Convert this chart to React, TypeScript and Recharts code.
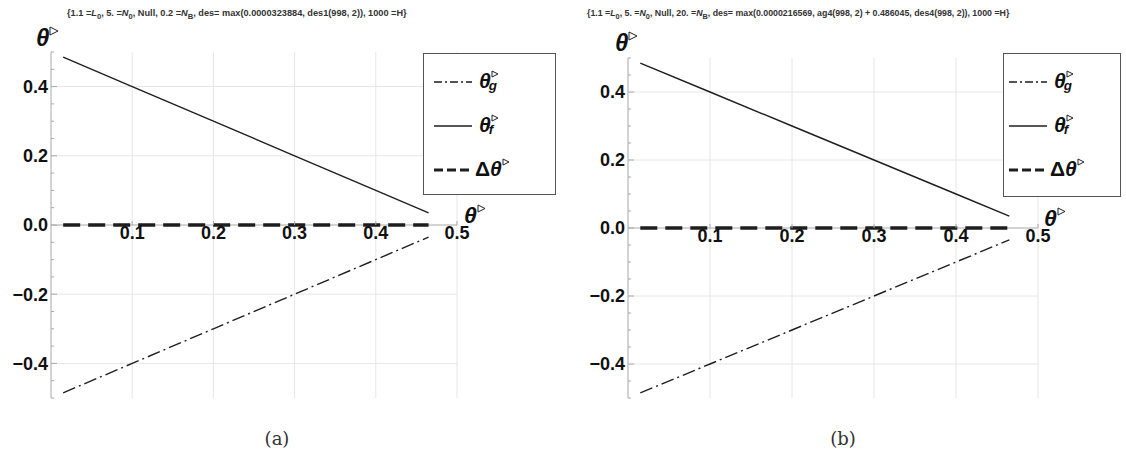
import React from "react";
import {
  LineChart,
  Line,
  XAxis,
  YAxis,
  CartesianGrid,
  ReferenceLine,
  Legend,
} from "recharts";

// sample positions along θ▷ and the three curves
const X_VALUES = [0.015, 0.1, 0.2, 0.3, 0.4, 0.465];
const THETA_G = [-0.485, -0.4, -0.3, -0.2, -0.1, -0.035];
const THETA_F = [0.485, 0.4, 0.3, 0.2, 0.1, 0.035];
const DELTA_THETA = [0, 0, 0, 0, 0, 0];

const X_TICKS = [0.1, 0.2, 0.3, 0.4, 0.5];
const Y_TICKS = [
  -0.5, -0.45, -0.4, -0.35, -0.3, -0.25, -0.2, -0.15, -0.1, -0.05, 0, 0.05,
  0.1, 0.15, 0.2, 0.25, 0.3, 0.35, 0.4, 0.45, 0.5,
];
const Y_GRID = [-0.4, -0.2, 0.2, 0.4];
const CAPTIONS = ["(a)", "(b)"];

const data = X_VALUES.map((x, i) => ({
  x,
  g: THETA_G[i],
  f: THETA_F[i],
  d: DELTA_THETA[i],
}));

const SERIES = [
  { key: "g", sub: "g", delta: false, dash: "13 4 2 4", width: 1.4, legendDash: "8 3 2 3" },
  { key: "f", sub: "f", delta: false, dash: undefined, width: 1.4, legendDash: undefined },
  { key: "d", sub: "", delta: true, dash: "17 8", width: 3.6, legendDash: "9 4" },
];

const INK = "#1e1e1e";
const AXIS = "#a8a8a8";
const GRID = "#e6e6e6";
const SANS = "'Liberation Sans', Arial, sans-serif";
const Y_AXIS_W = 46;
const X_AXIS_H = 20;

const fmt = (v: number) => {
  const s = Math.abs(v).toFixed(1);
  return v < -1e-9 ? "\u2212" + s : s;
};

const isMajor = (v: number) =>
  Math.abs(v * 5 - Math.round(v * 5)) < 1e-6 && Math.abs(v) < 0.49;

const YTick = (props: any) => {
  const { x, y, payload } = props;
  const v = payload.value as number;
  const major = isMajor(v);
  return (
    <g>
      <line x1={x} x2={x + (major ? 6 : 3)} y1={y} y2={y} stroke={AXIS} />
      {major && (
        <text
          x={x - 3}
          y={y}
          dy="0.36em"
          textAnchor="end"
          fontFamily={SANS}
          fontWeight="bold"
          fontSize={18}
          fill="#111"
        >
          {fmt(v)}
        </text>
      )}
    </g>
  );
};

// x ticks sit on the zero line, not at the bottom of the plot
const makeXTick = (lift: number) => (props: any) => {
  const { x, y, payload } = props;
  const y0 = y - lift;
  return (
    <g>
      <line x1={x} x2={x} y1={y0} y2={y0 - 4} stroke={AXIS} />
      <text
        x={x}
        y={y0 + 14}
        textAnchor="middle"
        fontFamily={SANS}
        fontWeight="bold"
        fontSize={18}
        fill="#111"
      >
        {payload.value.toFixed(1)}
      </text>
    </g>
  );
};

// small open triangle used as the ▷ superscript
const Tri = ({ s }: { s: number }) => (
  <svg width={s} height={s} style={{ display: "block" }}>
    <polygon
      points={`1,1 ${s - 1},${s / 2} 1,${s - 1}`}
      fill="none"
      stroke="#222"
      strokeWidth={1}
    />
  </svg>
);

const Theta = ({ size, sub, delta }: { size: number; sub?: string; delta?: boolean }) => (
  <span
    style={{
      fontFamily: SANS,
      fontWeight: "bold",
      fontSize: size,
      color: "#111",
      whiteSpace: "nowrap",
      lineHeight: 1,
    }}
  >
    {delta && <span>Δ</span>}
    <span style={{ fontStyle: "italic" }}>θ</span>
    <span
      style={{
        display: "inline-block",
        position: "relative",
        width: size * 0.42,
        height: size,
        verticalAlign: "top",
      }}
    >
      <span style={{ position: "absolute", left: 0, top: -size * 0.02 }}>
        <Tri s={Math.round(size * 0.4)} />
      </span>
      {sub && (
        <span
          style={{
            position: "absolute",
            left: -2,
            top: size * 0.45,
            fontSize: size * 0.64,
            fontStyle: "italic",
          }}
        >
          {sub}
        </span>
      )}
    </span>
  </span>
);

const LegendBox = ({ sampleLeft, textLeft }: { sampleLeft: number; textLeft: number }) => (
  <div
    style={{
      width: "100%",
      height: "100%",
      boxSizing: "border-box",
      border: "1.5px solid #555",
      background: "#fff",
      position: "relative",
    }}
  >
    {SERIES.map((s, i) => (
      <div
        key={s.key}
        style={{ position: "absolute", left: 0, top: 27 + i * 44 - 12, height: 24, width: "100%" }}
      >
        <svg
          width={38}
          height={24}
          style={{ position: "absolute", left: sampleLeft, top: 0 }}
        >
          <line
            x1={0}
            x2={38}
            y1={13}
            y2={13}
            stroke={INK}
            strokeWidth={s.delta ? 3 : 1.4}
            strokeDasharray={s.legendDash}
          />
        </svg>
        <div style={{ position: "absolute", left: s.delta ? textLeft - 4 : textLeft, top: 1 }}>
          <Theta size={21} sub={s.sub} delta={s.delta} />
        </div>
      </div>
    ))}
  </div>
);

const TitleA = () => (
  <span>
    {"{1.1 ="}<i>L</i><sub>0</sub>{", 5. ="}<i>N</i><sub>0</sub>{", Null, 0.2 ="}
    <i>N</i><sub>B</sub>{", des= max(0.0000323884, des1(998, 2)), 1000 =H}"}
  </span>
);

const TitleB = () => (
  <span>
    {"{1.1 ="}<i>L</i><sub>0</sub>{", 5. ="}<i>N</i><sub>0</sub>{", Null, 20. ="}
    <i>N</i><sub>B</sub>
    {", des= max(0.0000216569, ag4(998, 2) + 0.486045, des4(998, 2)), 1000 =H}"}
  </span>
);

const PANELS = [
  {
    left: 0,
    width: 560,
    margin: { top: 52, right: 103, bottom: 22 - X_AXIS_H, left: 51 - Y_AXIS_W },
    title: <TitleA />,
    titleLeft: 67,
    titleSize: 9.2,
    legend: { left: 423, top: 53, width: 133, height: 142, sampleLeft: 10, textLeft: 55 },
    yLabel: { left: 36, top: 26 },
    xLabel: { left: 464, top: 204 },
    caption: 277,
  },
  {
    left: 560,
    width: 566,
    margin: { top: 58, right: 88, bottom: 22 - X_AXIS_H, left: 68 - Y_AXIS_W },
    title: <TitleB />,
    titleLeft: 27,
    titleSize: 8.8,
    legend: { left: 443, top: 53, width: 118, height: 144, sampleLeft: 5, textLeft: 50 },
    yLabel: { left: 55, top: 31 },
    xLabel: { left: 484, top: 207 },
    caption: 283,
  },
];

const CHART_H = 420;

const Panel = ({ p, idx }: { p: (typeof PANELS)[number]; idx: number }) => {
  const plotH = CHART_H - p.margin.top - p.margin.bottom - X_AXIS_H;
  return (
    <div style={{ position: "absolute", left: p.left, top: 0, width: p.width, height: 459 }}>
      <div
        style={{
          position: "absolute",
          left: p.titleLeft,
          top: 8,
          fontFamily: SANS,
          fontWeight: "bold",
          fontSize: p.titleSize,
          color: "#333",
          whiteSpace: "nowrap",
          lineHeight: "10px",
        }}
      >
        {p.title}
      </div>
      <LineChart width={p.width} height={CHART_H} data={data} margin={p.margin}>
        <CartesianGrid
          stroke={GRID}
          horizontalValues={Y_GRID}
          verticalValues={X_TICKS}
        />
        <XAxis
          dataKey="x"
          type="number"
          domain={[0, 0.5]}
          ticks={X_TICKS}
          height={X_AXIS_H}
          axisLine={false}
          tickLine={false}
          tickSize={0}
          tickMargin={0}
          tick={makeXTick(plotH / 2)}
          interval={0}
          allowDataOverflow
        />
        <YAxis
          type="number"
          domain={[-0.5, 0.5]}
          ticks={Y_TICKS}
          width={Y_AXIS_W}
          axisLine={{ stroke: AXIS }}
          tickLine={false}
          tickSize={0}
          tickMargin={0}
          tick={YTick}
          interval={0}
          allowDataOverflow
        />
        <ReferenceLine y={0} stroke={AXIS} />
        {SERIES.map((s) => (
          <Line
            key={s.key}
            type="linear"
            dataKey={s.key}
            stroke={INK}
            strokeWidth={s.width}
            strokeDasharray={s.dash}
            dot={false}
            activeDot={false}
            isAnimationActive={false}
          />
        ))}
        <Legend
          layout="vertical"
          align="center"
          verticalAlign="middle"
          wrapperStyle={{
            position: "absolute",
            left: p.legend.left,
            top: p.legend.top,
            width: p.legend.width,
            height: p.legend.height,
          }}
          content={() => (
            <LegendBox sampleLeft={p.legend.sampleLeft} textLeft={p.legend.textLeft} />
          )}
        />
      </LineChart>
      <div style={{ position: "absolute", left: p.yLabel.left, top: p.yLabel.top }}>
        <Theta size={24} />
      </div>
      <div style={{ position: "absolute", left: p.xLabel.left, top: p.xLabel.top }}>
        <Theta size={23} />
      </div>
      <div
        style={{
          position: "absolute",
          left: p.caption - 30,
          width: 60,
          top: 428,
          textAlign: "center",
          fontFamily: "'DejaVu Serif', 'Liberation Serif', serif",
          fontSize: 18,
          color: "#333",
        }}
      >
        {CAPTIONS[idx]}
      </div>
    </div>
  );
};

export default function App() {
  return (
    <div
      style={{
        position: "absolute",
        left: 0,
        top: 0,
        width: 1126,
        height: 459,
        background: "#fff",
        overflow: "hidden",
      }}
    >
      {PANELS.map((p, i) => (
        <Panel key={i} p={p} idx={i} />
      ))}
    </div>
  );
}
